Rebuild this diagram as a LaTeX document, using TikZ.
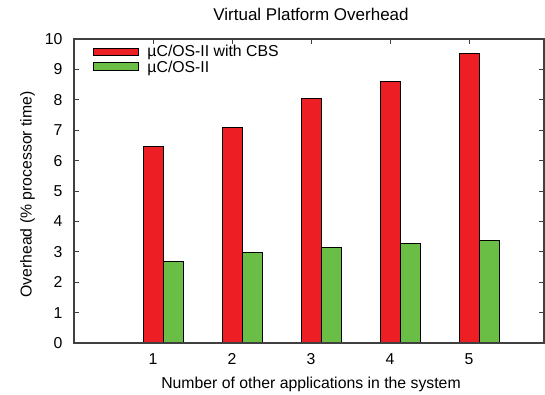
\documentclass[tikz,border=0pt]{standalone}
\usepackage{fontspec}
\setmainfont{Liberation Sans}
\definecolor{cbsred}{RGB}{237,30,36}
\definecolor{osgreen}{RGB}{106,189,69}
\newcommand{\framecol}{black!75}
\newcommand{\labelfont}{\fontsize{15.8}{19}\selectfont}
\tikzset{every path/.style={line width=1 pt}}
\tikzset{cbsbar/.style={draw=black,fill=cbsred},
  osbar/.style={draw=black,fill=osgreen},
  ytick/.style={anchor=east,inner sep=0pt},
  xtick/.style={anchor=base,inner sep=0pt},
  legtext/.style={anchor=base west,inner sep=0pt}}

\begin{document}
\begin{tikzpicture}[x=79pt,y=30.4pt,font=\labelfont]
\useasboundingbox (-74pt,-51pt) rectangle (471pt,343pt);

%bars
\draw[cbsbar] (0.877,0) rectangle (1.133,6.46);
\draw[osbar] (1.133,0) rectangle (1.385,2.67);
\draw[cbsbar] (1.877,0) rectangle (2.133,7.10);
\draw[osbar] (2.133,0) rectangle (2.385,2.97);
\draw[cbsbar] (2.877,0) rectangle (3.133,8.05);
\draw[osbar] (3.133,0) rectangle (3.385,3.13);
\draw[cbsbar] (3.877,0) rectangle (4.133,8.60);
\draw[osbar] (4.133,0) rectangle (4.385,3.28);
\draw[cbsbar] (4.877,0) rectangle (5.133,9.52);
\draw[osbar] (5.133,0) rectangle (5.385,3.38);

%frame and ticks
\draw[\framecol, line width=1.4pt] (0,0) rectangle (5.949,10);
\draw[\framecol] (0,1) -- (0.063,1);
\draw[\framecol] (0,2) -- (0.063,2);
\draw[\framecol] (0,3) -- (0.063,3);
\draw[\framecol] (0,4) -- (0.063,4);
\draw[\framecol] (0,5) -- (0.063,5);
\draw[\framecol] (0,6) -- (0.063,6);
\draw[\framecol] (0,7) -- (0.063,7);
\draw[\framecol] (0,8) -- (0.063,8);
\draw[\framecol] (0,9) -- (0.063,9);
\draw[\framecol] (5.949,1) -- (5.886,1);
\draw[\framecol] (5.949,2) -- (5.886,2);
\draw[\framecol] (5.949,3) -- (5.886,3);
\draw[\framecol] (5.949,4) -- (5.886,4);
\draw[\framecol] (5.949,5) -- (5.886,5);
\draw[\framecol] (5.949,6) -- (5.886,6);
\draw[\framecol] (5.949,7) -- (5.886,7);
\draw[\framecol] (5.949,8) -- (5.886,8);
\draw[\framecol] (5.949,9) -- (5.886,9);
\draw[\framecol] (1,10) -- (1,9.836);
\draw[\framecol] (2,10) -- (2,9.836);
\draw[\framecol] (3,10) -- (3,9.836);
\draw[\framecol] (4,10) -- (4,9.836);
\draw[\framecol] (5,10) -- (5,9.836);

%tick labels
\node[ytick] (y0) at (-0.139,0) {0};
\node[ytick] (y1) at (-0.139,1) {1};
\node[ytick] (y2) at (-0.139,2) {2};
\node[ytick] (y3) at (-0.139,3) {3};
\node[ytick] (y4) at (-0.139,4) {4};
\node[ytick] (y5) at (-0.139,5) {5};
\node[ytick] (y6) at (-0.139,6) {6};
\node[ytick] (y7) at (-0.139,7) {7};
\node[ytick] (y8) at (-0.139,8) {8};
\node[ytick] (y9) at (-0.139,9) {9};
\node[ytick] (y10) at (-0.139,10) {10};
\node[xtick] (x1) at (1,-0.691) {1};
\node[xtick] (x2) at (2,-0.691) {2};
\node[xtick] (x3) at (3,-0.691) {3};
\node[xtick] (x4) at (4,-0.691) {4};
\node[xtick] (x5) at (5,-0.691) {5};

%titles
\node[anchor=base, inner sep=0pt, font=\fontsize{17}{20}\selectfont] (title) at (3,10.602) {Virtual Platform Overhead};
\node[anchor=base, inner sep=0pt] (xlabel) at (3,-1.497) {Number of other applications in the system};
\node[anchor=base, inner sep=0pt, rotate=90] (ylabel) at (-0.535,4.885) {Overhead (\% processor time)};

%legend
\draw[cbsbar] (0.244,9.451) rectangle (0.814,9.694);
\node[legtext] (legcbs) at (0.924,9.418) {µC/OS-II with CBS};
\draw[osbar] (0.244,8.957) rectangle (0.814,9.220);
\node[legtext] (legos) at (0.924,8.891) {µC/OS-II};
\end{tikzpicture}
\end{document}
